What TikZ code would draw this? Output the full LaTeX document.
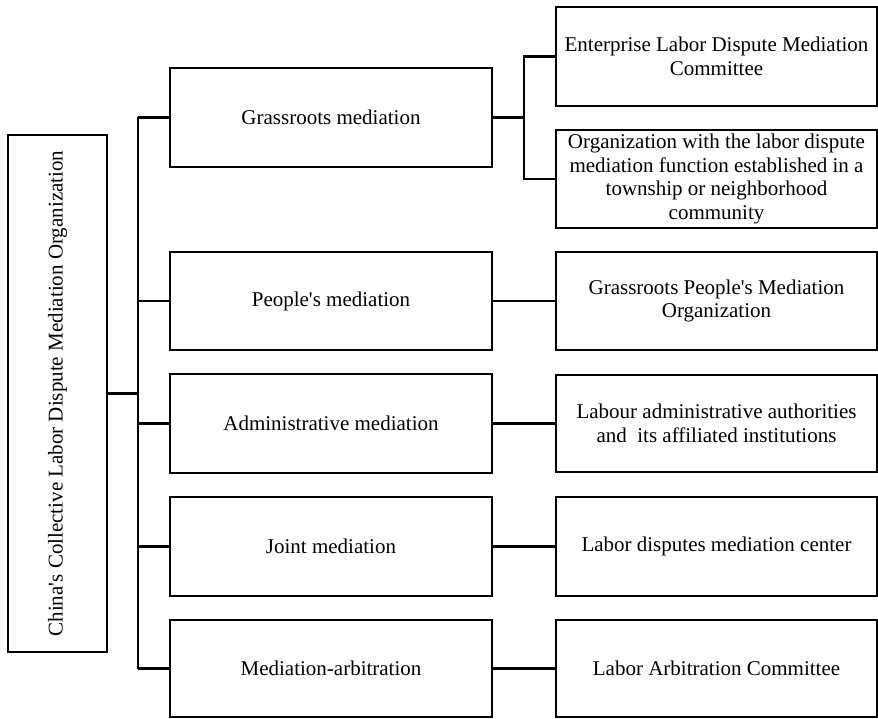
\documentclass[tikz,border=0pt]{standalone}
\usepackage{fontspec}
\setmainfont{Liberation Serif}[Ligatures=TeXOff]
\begin{document}
\begin{tikzpicture}[x=1pt,y=-1pt,
  box/.style={draw=black,line width=2.2pt,rectangle,inner sep=2pt,align=center,
    font=\fontsize{21}{23.5}\selectfont},
  midbox/.style={box,minimum width=322pt,minimum height=98pt},
  subbox/.style={box,minimum width=321pt,minimum height=98pt},
  link/.style={line width=2.2pt}]
\useasboundingbox (0,0) rectangle (878,719);

% root
\node[box,minimum width=99pt,minimum height=517pt] (root) at (57.5,393.5) {};
\node[rotate=90,font=\fontsize{21}{23.5}\selectfont] (roottxt) at (root.center)
  {China's Collective Labor Dispute Mediation Organization};

% second level
\node[midbox,minimum height=99pt] (grass) at (331,117.5) {Grassroots mediation};
\node[midbox] (people) at (331,301) {People's mediation};
\node[midbox,minimum height=99pt] (admin) at (331,423.5) {Administrative mediation};
\node[midbox,minimum height=99pt] (joint) at (331,546.5) {Joint mediation};
\node[midbox,minimum height=97pt] (medarb) at (331,668.5) {Mediation-arbitration};

% third level
\node[subbox,minimum height=99pt] (enterprise) at (716.5,56.5)
  {Enterprise Labor Dispute Mediation\\Committee};
\node[subbox] (township) at (716.5,179)
  {Organization with the labor dispute\\mediation function established in a\\township or neighborhood\\community};
\node[subbox] (gpmo) at (716.5,301)
  {Grassroots People's Mediation\\Organization};
\node[subbox,minimum height=97pt] (labadm) at (716.5,423.5)
  {Labour administrative authorities\\and\ \ its affiliated institutions};
\node[subbox,minimum height=99pt] (center) at (716.5,546.5)
  {Labor disputes mediation center};
\node[subbox,minimum height=97pt] (arbcom) at (716.5,668.5)
  {Labor Arbitration Committee};

% trunk from the root to the second level
\coordinate (trunktop) at (138,117.5);
\coordinate (trunkbot) at (138,668.5);
\draw[link] (trunktop) -- (trunkbot);
\draw[link] (root.east) -- (root.east -| trunktop);
\foreach \n in {grass,people,admin,joint,medarb}
  \draw[link] (\n.west -| trunktop) -- (\n.west);

% grassroots fork
\coordinate (fork) at (524,117.5);
\draw[link] (grass.east) -- (fork);
\draw[link] (enterprise.west) -- (enterprise.west -| fork) -- (township.west -| fork) -- (township.west);

% one-to-one links
\draw[link] (people.east) -- (gpmo.west);
\draw[link] (admin.east) -- (labadm.west);
\draw[link] (joint.east) -- (center.west);
\draw[link] (medarb.east) -- (arbcom.west);
\end{tikzpicture}
\end{document}
